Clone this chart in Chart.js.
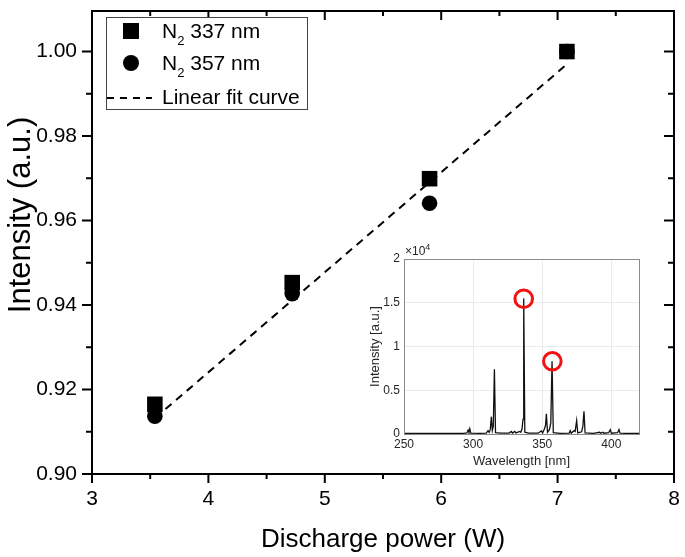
<!DOCTYPE html>
<html>
<head>
<meta charset="utf-8">
<script src="https://cdn.jsdelivr.net/npm/chart.js@4.4.1/dist/chart.umd.min.js"></script>
<style>
    body { margin: 0; background: #fff; }
    #wrap { position: relative; width: 685px; height: 557px; }
    #insetBox { position: absolute; left: 358px; top: 244px; width: 300px; height: 228px; }
</style>
</head>
<body>
<div id="wrap">
    <canvas id="mainChart" width="685" height="557"></canvas>
    <div id="insetBox"><canvas id="insetChart" width="300" height="228"></canvas></div>
</div>
<script>
// main plot data
const powerW = [3.54, 4.72, 5.90, 7.08];
const int337 = [0.9165, 0.9453, 0.9699, 1.000];
const int357 = [0.9137, 0.9427, 0.9641, 1.000];
const fitPower = [3.54, 7.08];
const fitInt = [0.9132, 0.9970];

const xMajor = [3, 4, 5, 6, 7, 8];
const xMinor = [3.5, 4.5, 5.5, 6.5, 7.5];
const yMajor = [0.90, 0.92, 0.94, 0.96, 0.98, 1.00];
const yMinor = [0.91, 0.93, 0.95, 0.97, 0.99];

// inset spectrum (nm, counts)
const wavelength = [250, 280, 293, 295.5, 296.4, 297.0, 297.6, 298.3, 305, 309.5, 310.8, 311.6, 312.4, 313.2, 313.9, 314.6, 315.4, 316.2,
    320, 326, 327.7, 328.4, 330.1, 331, 333.7, 334.5, 335.4, 336.1, 336.6, 337.4, 340, 347, 349.4, 350.3, 351.6, 352.4, 353.0, 353.8,
    355.2, 356.2, 357.1, 358.0, 363, 369.5, 370.3, 371.0, 373.0, 373.8, 374.9, 375.7, 378.5, 379.4, 380.2, 381.0, 387, 391.5, 392.3,
    393.9, 394.6, 398.0, 399.2, 400.0, 404.5, 405.5, 406.3, 412, 420];
const counts = [60, 60, 70, 120, 450, 250, 600, 90, 80, 100, 380, 180, 500, 1980, 400, 900, 7400, 150,
    90, 100, 300, 100, 300, 120, 300, 200, 600, 1700, 15500, 200, 90, 90, 350, 120, 600, 1000, 2300, 200,
    500, 1300, 8300, 150, 80, 100, 380, 90, 380, 300, 1520, 120, 250, 900, 2590, 120, 80, 200, 90,
    200, 90, 150, 500, 90, 150, 500, 90, 70, 70];
const markedWl = [336.6, 357.3];
const markedCounts = [15460, 8310];

Chart.defaults.font.family = "'Liberation Sans', Arial, sans-serif";
Chart.defaults.color = '#000';

function xy(xs, ys) {
    return xs.map((x, i) => ({ x: x, y: ys[i] }));
}

// frame + outward ticks (left/bottom), inward ticks (top/right), y title
const frameTicks = {
    id: 'frameTicks',
    afterDraw(chart) {
        const { ctx, chartArea: a, scales: { x, y } } = chart;
        ctx.save();
        ctx.strokeStyle = '#000';
        ctx.lineWidth = 2;
        ctx.strokeRect(a.left, a.top, a.width, a.height);
        ctx.beginPath();
        const xt = (v, len) => {
            const px = x.getPixelForValue(v);
            ctx.moveTo(px, a.bottom); ctx.lineTo(px, a.bottom + len);
            ctx.moveTo(px, a.top); ctx.lineTo(px, a.top + len);
        };
        const yt = (v, len) => {
            const py = y.getPixelForValue(v);
            ctx.moveTo(a.left, py); ctx.lineTo(a.left - len, py);
            ctx.moveTo(a.right, py); ctx.lineTo(a.right - len, py);
        };
        xMajor.forEach(v => xt(v, 9));
        xMinor.forEach(v => xt(v, 5));
        yMajor.forEach(v => yt(v, 10));
        yMinor.forEach(v => yt(v, 6));
        ctx.stroke();

        // y axis title, placed a bit above centre like the original
        ctx.translate(21, 215);
        ctx.rotate(-Math.PI / 2);
        ctx.fillStyle = '#000';
        ctx.font = "31px 'Liberation Sans', Arial, sans-serif";
        ctx.textAlign = 'center';
        ctx.textBaseline = 'middle';
        ctx.fillText('Intensity (a.u.)', 0, 0);
        ctx.restore();
    }
};

// legend box with subscripts
const boxLegend = {
    id: 'boxLegend',
    afterDraw(chart) {
        const ctx = chart.ctx;
        const font = "21px 'Liberation Sans', Arial, sans-serif";
        const subFont = "13px 'Liberation Sans', Arial, sans-serif";
        ctx.save();
        ctx.fillStyle = '#fff';
        ctx.fillRect(106, 17, 201, 92);
        ctx.strokeStyle = '#444';
        ctx.lineWidth = 1;
        ctx.strokeRect(106.5, 17.5, 201, 92);

        ctx.fillStyle = '#000';
        ctx.fillRect(131 - 8, 31 - 8, 16, 16);
        ctx.beginPath();
        ctx.arc(131, 63, 8, 0, Math.PI * 2);
        ctx.fill();

        ctx.strokeStyle = '#000';
        ctx.lineWidth = 2;
        ctx.setLineDash([7, 6]);
        ctx.beginPath();
        ctx.moveTo(107, 98);
        ctx.lineTo(152, 98);
        ctx.stroke();
        ctx.setLineDash([]);

        const molecule = (label, yb) => {
            ctx.font = font;
            ctx.textBaseline = 'alphabetic';
            ctx.fillText('N', 162, yb);
            let x = 162 + ctx.measureText('N').width;
            ctx.font = subFont;
            ctx.fillText('2', x, yb + 7);
            x += ctx.measureText('2').width;
            ctx.font = font;
            ctx.fillText(label, x, yb);
        };
        molecule(' 337 nm', 38);
        molecule(' 357 nm', 70);
        ctx.font = font;
        ctx.fillText('Linear fit curve', 162, 104);
        ctx.restore();
    }
};

new Chart(document.getElementById('mainChart'), {
    type: 'scatter',
    data: {
        datasets: [
            {
                label: 'N2 337 nm',
                data: xy(powerW, int337),
                pointStyle: 'rect',
                pointRadius: 11,
                backgroundColor: '#000',
                borderColor: '#000',
                borderWidth: 0,
                order: 2
            },
            {
                label: 'N2 357 nm',
                data: xy(powerW, int357),
                pointStyle: 'circle',
                pointRadius: 7.8,
                backgroundColor: '#000',
                borderColor: '#000',
                borderWidth: 0,
                order: 1
            },
            {
                label: 'Linear fit curve',
                type: 'line',
                data: xy(fitPower, fitInt),
                borderColor: '#000',
                borderWidth: 2,
                borderDash: [8, 6],
                pointRadius: 0,
                fill: false,
                order: 3
            }
        ]
    },
    options: {
        responsive: false,
        animation: false,
        layout: { padding: { top: 2, right: 6, left: 0, bottom: 0 } },
        plugins: { legend: { display: false }, tooltip: { enabled: false } },
        scales: {
            x: {
                type: 'linear',
                min: 3,
                max: 8,
                afterBuildTicks: s => { s.ticks = xMajor.map(v => ({ value: v })); },
                afterFit: s => { s.height = 83; s.paddingLeft = 0; s.paddingRight = 0; },
                grid: { display: false, drawTicks: false },
                border: { display: false },
                ticks: { font: { size: 21 }, color: '#000', padding: 13, maxRotation: 0 },
                title: { display: true, text: 'Discharge power (W)', font: { size: 26 }, color: '#000', padding: { top: 0, bottom: 2 } }
            },
            y: {
                type: 'linear',
                min: 0.90,
                max: 1.0096,
                afterBuildTicks: s => { s.ticks = yMajor.map(v => ({ value: v })); },
                afterFit: s => { s.width = 92; s.paddingTop = 0; s.paddingBottom = 0; },
                grid: { display: false, drawTicks: false },
                border: { display: false },
                ticks: { font: { size: 21 }, color: '#000', padding: 15, callback: v => v.toFixed(2) },
                title: { display: false }
            }
        }
    },
    plugins: [frameTicks, boxLegend]
});

// inset: grey box and the x10^4 multiplier
const insetFrame = {
    id: 'insetFrame',
    afterDraw(chart) {
        const { ctx, chartArea: a } = chart;
        ctx.save();
        ctx.strokeStyle = '#8a8a8a';
        ctx.lineWidth = 1;
        ctx.strokeRect(a.left + 0.5, a.top + 0.5, a.width, a.height);
        ctx.fillStyle = '#262626';
        ctx.font = "12px 'Liberation Sans', Arial, sans-serif";
        ctx.textBaseline = 'alphabetic';
        ctx.fillText('×10', a.left + 1, a.top - 4);
        const w = ctx.measureText('×10').width;
        ctx.font = "9px 'Liberation Sans', Arial, sans-serif";
        ctx.fillText('4', a.left + 1 + w, a.top - 9);
        ctx.restore();
    }
};

new Chart(document.getElementById('insetChart'), {
    type: 'line',
    data: {
        datasets: [
            {
                label: 'spectrum',
                data: xy(wavelength, counts),
                borderColor: '#111',
                borderWidth: 1.3,
                pointRadius: 0,
                tension: 0,
                fill: false,
                order: 2
            },
            {
                label: 'marked',
                type: 'scatter',
                data: xy(markedWl, markedCounts),
                pointStyle: 'circle',
                pointRadius: 8.8,
                borderColor: '#f21010',
                borderWidth: 3,
                backgroundColor: 'rgba(0,0,0,0)',
                order: 1
            }
        ]
    },
    options: {
        responsive: false,
        animation: false,
        layout: { padding: { top: 15, right: 19, left: 0, bottom: 0 } },
        plugins: { legend: { display: false }, tooltip: { enabled: false } },
        scales: {
            x: {
                type: 'linear',
                min: 250,
                max: 420,
                afterFit: s => { s.height = 38; s.paddingLeft = 0; s.paddingRight = 0; },
                grid: { color: '#ebebeb', drawTicks: false },
                border: { display: false },
                ticks: { stepSize: 50, includeBounds: false, font: { size: 12 }, color: '#262626', padding: 3, maxRotation: 0 },
                title: { display: true, text: 'Wavelength [nm]', font: { size: 13 }, color: '#262626', padding: { top: 0, bottom: 3 } }
            },
            y: {
                type: 'linear',
                min: 0,
                max: 20000,
                afterFit: s => { s.width = 46; s.paddingTop = 0; s.paddingBottom = 0; },
                grid: { color: '#ebebeb', drawTicks: false },
                border: { display: false },
                ticks: { stepSize: 5000, font: { size: 12 }, color: '#262626', padding: 4, callback: v => String(v / 10000) },
                title: { display: true, text: 'Intensity [a.u.]', font: { size: 13 }, color: '#262626', padding: { top: 10, bottom: 0 } }
            }
        }
    },
    plugins: [insetFrame]
});
</script>
</body>
</html>
